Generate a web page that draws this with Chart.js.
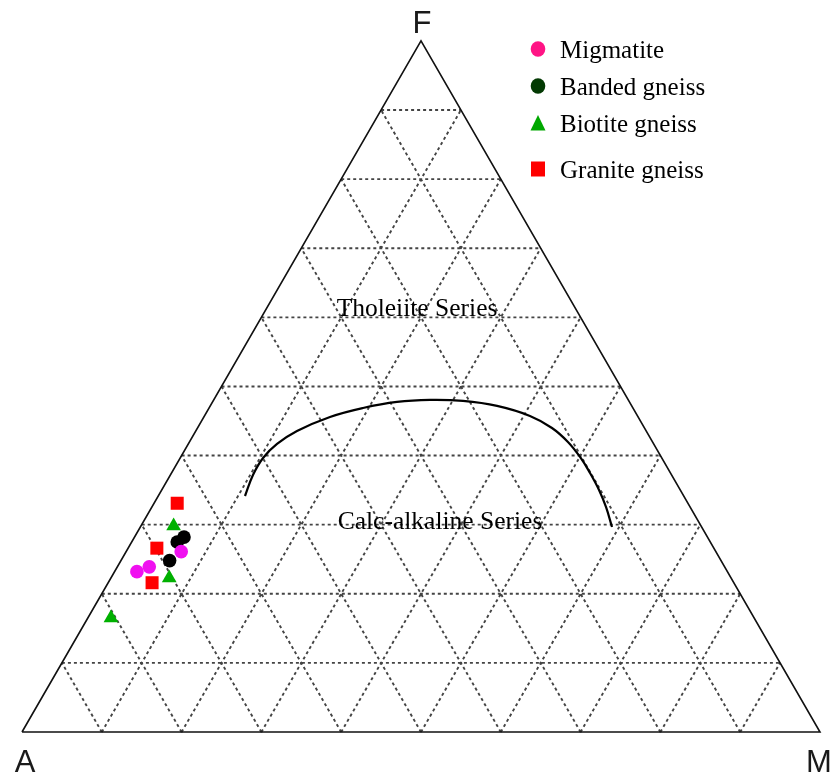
<!DOCTYPE html>
<html>
<head>
<meta charset="utf-8">
<script src="https://cdn.jsdelivr.net/npm/chart.js@4/dist/chart.umd.min.js"></script>
<style>
  html, body { margin: 0; padding: 0; background: #fff; }
  canvas { display: block; }
</style>
</head>
<body>
<canvas id="afm" width="834" height="777"></canvas>
<script>
// AFM ternary diagram. Each sample is given as percent F and percent M; A = 100 - F - M.
const groupNames = ['Migmatite', 'Banded gneiss', 'Biotite gneiss', 'Granite gneiss'];

const migmatiteF = [26.1, 23.2, 23.9];
const migmatiteM = [6.9, 2.8, 4.0];

const bandedF = [28.2, 27.5, 24.8];
const bandedM = [6.2, 5.7, 6.1];

const biotiteF = [29.8, 22.3, 16.5];
const biotiteM = [4.1, 7.3, 2.9];

const graniteF = [33.1, 26.6, 21.6];
const graniteM = [2.9, 3.6, 5.5];

// Tholeiite / calc-alkaline dividing curve
const boundaryF = [34.15, 37.19, 39.65, 41.68, 43.56, 45.59, 46.89, 47.76, 48.05, 47.90,
                   47.18, 45.73, 43.99, 41.97, 39.80, 37.48, 35.02, 32.56, 29.67];
const boundaryM = [10.87, 10.35, 10.38, 11.12, 12.68, 15.80, 19.29, 23.11, 27.11, 31.32,
                   35.94, 40.79, 44.42, 47.43, 50.03, 52.44, 54.80, 56.90, 59.10];

// Grid lines every 10 %
const gridTicks = [10, 20, 30, 40, 50, 60, 70, 80, 90];

const vertexLabels = ['A', 'F', 'M'];
const fieldLabels = ['Tholeiite Series', 'Calc-alkaline Series'];

const H = Math.sqrt(3) / 2;

// ternary (F, M) percent -> cartesian with A at (0,0), M at (1,0), F at (0.5, H)
function toXY(f, m) {
  return { x: m / 100 + 0.5 * f / 100, y: H * f / 100 };
}

function pointsOf(fs, ms) {
  return fs.map((f, i) => toXY(f, ms[i]));
}

// grid segments: constant F, constant M, constant A; segments separated by null gaps
function gridData() {
  const out = [];
  gridTicks.forEach(t => {
    out.push(toXY(t, 0), toXY(t, 100 - t), { x: null, y: null });          // constant F
    out.push(toXY(0, t), toXY(100 - t, t), { x: null, y: null });          // constant M
    out.push(toXY(0, 100 - t), toXY(100 - t, 0), { x: null, y: null });    // constant A
  });
  return out;
}

const edgeData = [toXY(0, 0), toXY(0, 100), toXY(100, 0), toXY(0, 0)];

const markerSets = [
  { f: migmatiteF, m: migmatiteM, style: 'circle', r: 6.8, color: '#f010f0', legend: '#ff1485' },
  { f: bandedF, m: bandedM, style: 'circle', r: 6.8, color: '#000000', legend: '#033a03' },
  { f: biotiteF, m: biotiteM, style: 'triangle', r: 8.5, color: '#00b000', legend: '#00a800' },
  { f: graniteF, m: graniteM, style: 'rect', r: 9.2, color: '#ff0000', legend: '#ff0000' }
];

const datasets = markerSets.map((s, i) => ({
  label: groupNames[i],
  data: pointsOf(s.f, s.m),
  pointStyle: s.style,
  pointRadius: s.r,
  pointBackgroundColor: s.color,
  pointBorderColor: s.color,
  pointBorderWidth: 0,
  showLine: false,
  order: 0
}));

datasets.push({
  label: 'boundary',
  data: pointsOf(boundaryF, boundaryM),
  showLine: true,
  borderColor: '#000',
  borderWidth: 2.2,
  pointRadius: 0,
  tension: 0.4,
  fill: false,
  order: 1
});

datasets.push({
  label: 'edges',
  data: edgeData,
  showLine: true,
  borderColor: '#111',
  borderWidth: 1.6,
  pointRadius: 0,
  tension: 0,
  fill: false,
  order: 1
});

datasets.push({
  label: 'grid',
  data: gridData(),
  showLine: true,
  spanGaps: false,
  borderColor: '#444',
  borderWidth: 1.9,
  borderDash: [3, 3],
  pointRadius: 0,
  tension: 0,
  fill: false,
  order: 2
});

// vertex names, field names and legend
const annotations = {
  id: 'annotations',
  afterDatasetsDraw(chart) {
    const ctx = chart.ctx;
    const xs = chart.scales.x, ys = chart.scales.y;
    const px = p => xs.getPixelForValue(p.x);
    const py = p => ys.getPixelForValue(p.y);
    ctx.save();

    ctx.fillStyle = '#1a1a1a';
    ctx.font = '31px "Liberation Sans", Arial, sans-serif';
    ctx.textAlign = 'center';
    ctx.textBaseline = 'alphabetic';
    const a = toXY(0, 0), m = toXY(0, 100), f = toXY(100, 0);
    ctx.fillText(vertexLabels[0], px(a) + 3, py(a) + 40);
    ctx.fillText(vertexLabels[2], px(m) - 1, py(m) + 40);
    ctx.fillText(vertexLabels[1], px(f) + 1, py(f) - 8);

    ctx.fillStyle = '#000';
    ctx.font = '25.5px "Liberation Serif", "Times New Roman", serif';
    ctx.fillText(fieldLabels[0], 417, 316);
    ctx.fillText(fieldLabels[1], 440, 529);

    const baselines = [58, 95, 132, 178];
    ctx.font = '25px "Liberation Serif", "Times New Roman", serif';
    ctx.textAlign = 'left';
    markerSets.forEach((s, i) => {
      const cy = baselines[i] - 9;
      const cx = 538;
      ctx.fillStyle = s.legend;
      ctx.beginPath();
      if (s.style === 'circle') {
        ctx.ellipse(cx, cy, 7.3, 7.8, 0, 0, Math.PI * 2);
      } else if (s.style === 'triangle') {
        ctx.moveTo(cx, cy - 8);
        ctx.lineTo(cx + 7.5, cy + 7.5);
        ctx.lineTo(cx - 7.5, cy + 7.5);
        ctx.closePath();
      } else {
        ctx.rect(cx - 7, cy - 7.5, 14, 15);
      }
      ctx.fill();
      ctx.fillStyle = '#000';
      ctx.fillText(groupNames[i], 560, baselines[i]);
    });
    ctx.restore();
  }
};

new Chart(document.getElementById('afm'), {
  type: 'scatter',
  data: { datasets },
  options: {
    responsive: false,
    animation: false,
    devicePixelRatio: 1,
    layout: { padding: 0, autoPadding: false },
    plugins: {
      legend: { display: false },
      tooltip: { enabled: false },
      title: { display: false }
    },
    scales: {
      x: { type: 'linear', display: false, min: -22 / 798, max: 812 / 798 },
      y: { type: 'linear', display: false, min: -45 / 798, max: 732 / 798 }
    }
  },
  plugins: [annotations]
});
</script>
</body>
</html>
